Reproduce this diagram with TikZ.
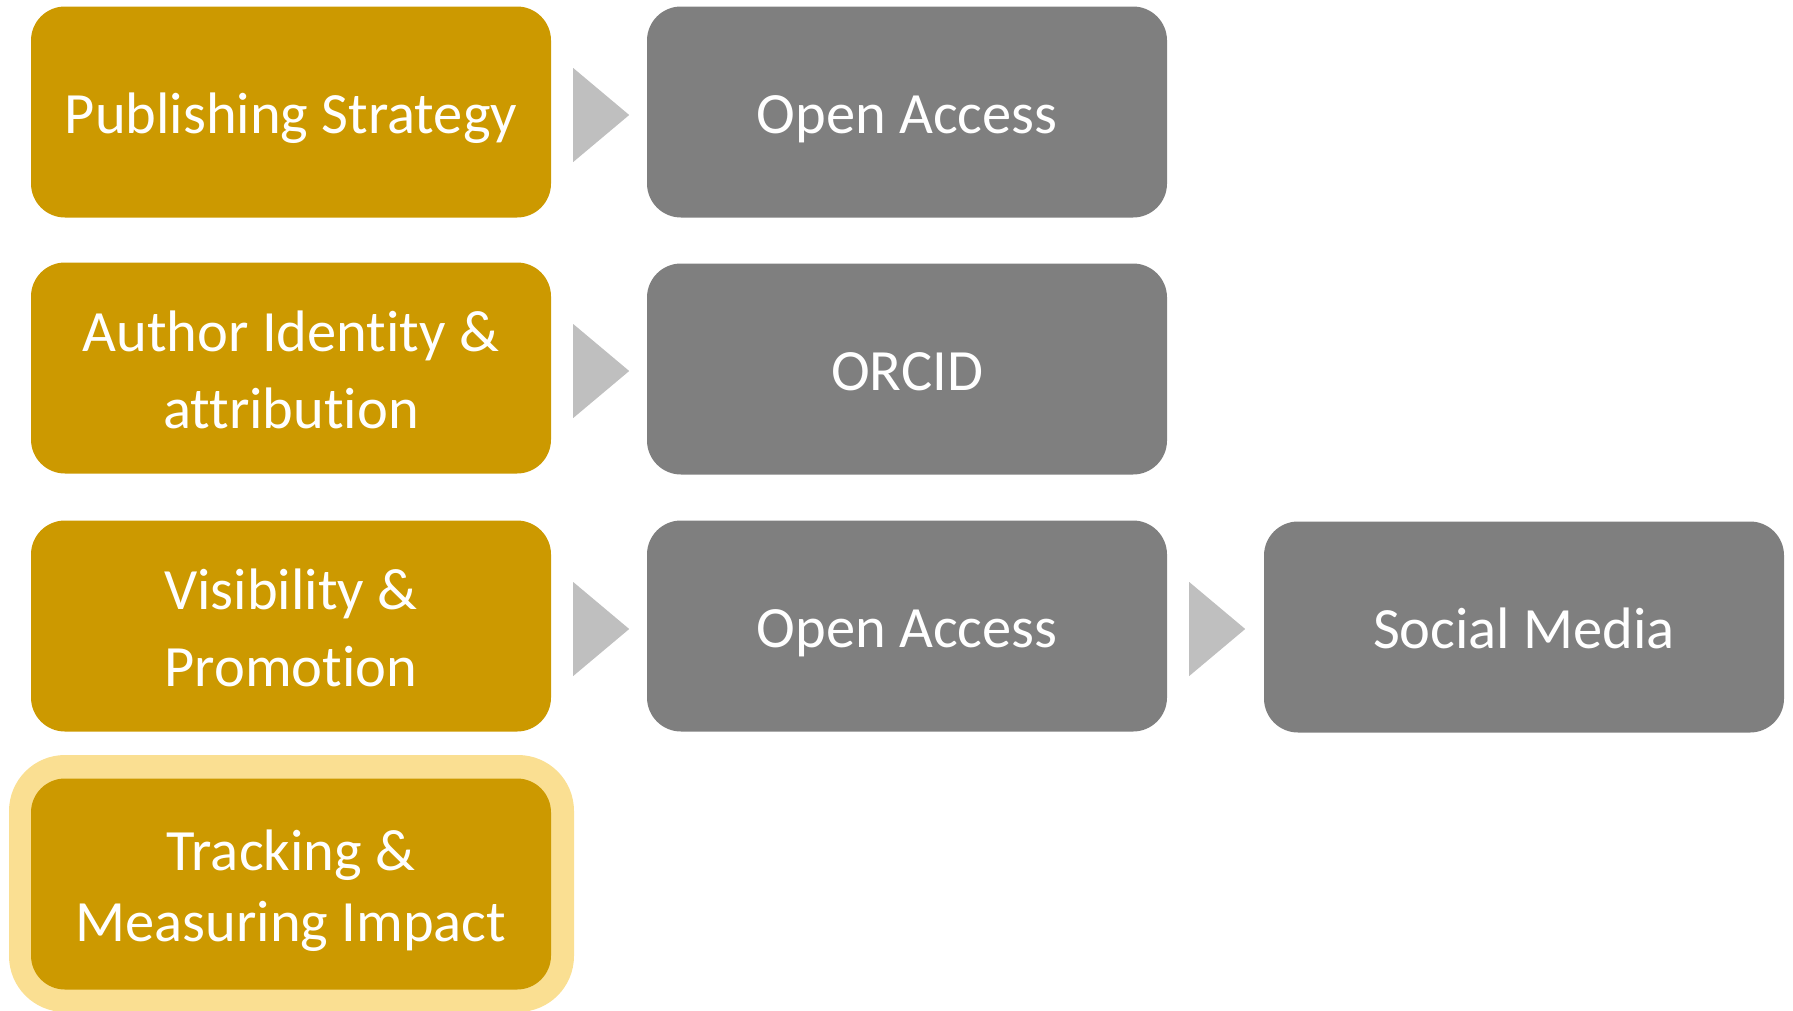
\documentclass[tikz,border=0pt]{standalone}
\usepackage{fontspec}
\setmainfont{Carlito}[Ligatures=NoCommon]
\usetikzlibrary{positioning}

\definecolor{gold}{HTML}{CC9900}
\definecolor{slate}{HTML}{7F7F7F}
\definecolor{glowfill}{HTML}{FADF92}
\definecolor{tipfill}{HTML}{BFBFBF}

% one line of box text, with a fixed height and no depth
\newcommand\boxline[1]{\raisebox{0pt}[43pt][0pt]{#1}}

\begin{document}
\begin{tikzpicture}[x=1pt, y=-1pt,
  box/.style={rectangle, rounded corners=34pt, minimum width=520pt, minimum height=211pt,
    inner sep=0pt, text=white, align=center, font=\fontsize{58.5}{77}\selectfont},
  goldbox/.style={box, fill=gold},
  greybox/.style={box, fill=slate},
  chevron/.style={fill=tipfill}]

\useasboundingbox (0,0) rectangle (1793,1010);

% glow round the last step
\fill[glowfill, rounded corners=56pt] (9,755) rectangle (574,1012);

\node[goldbox] (ps) at (291,112) {\boxline{Publishing Strategy}};
\node[goldbox] (ai) at (291,368) {\boxline{Author Identity \&}\\\boxline{attribution}};
\node[goldbox] (vp) at (291,626) {\boxline{Visibility \&}\\\boxline{Promotion}};
\node[goldbox, font=\fontsize{58.5}{71}\selectfont] (tm) at (291,884)
  {\boxline{Tracking \&}\\\boxline{Measuring Impact}};

\node[greybox] (oa1) at (907,112) {\boxline{Open Access}};
\node[greybox] (or)  at (907,369) {\boxline{ORCID}};
\node[greybox] (oa2) at (907,626) {\boxline{Open Access}};
\node[greybox] (sm)  at (1524,627) {\boxline{Social Media}};

% chevrons between the boxes
\foreach \a/\b in {ps/oa1, ai/or, vp/oa2, oa2/sm}
  \fill[chevron] ([xshift=22pt, yshift=-3pt]\a.east) ++(0,-47) -- ++(56,47) -- ++(-56,47) -- cycle;

\end{tikzpicture}
\end{document}
